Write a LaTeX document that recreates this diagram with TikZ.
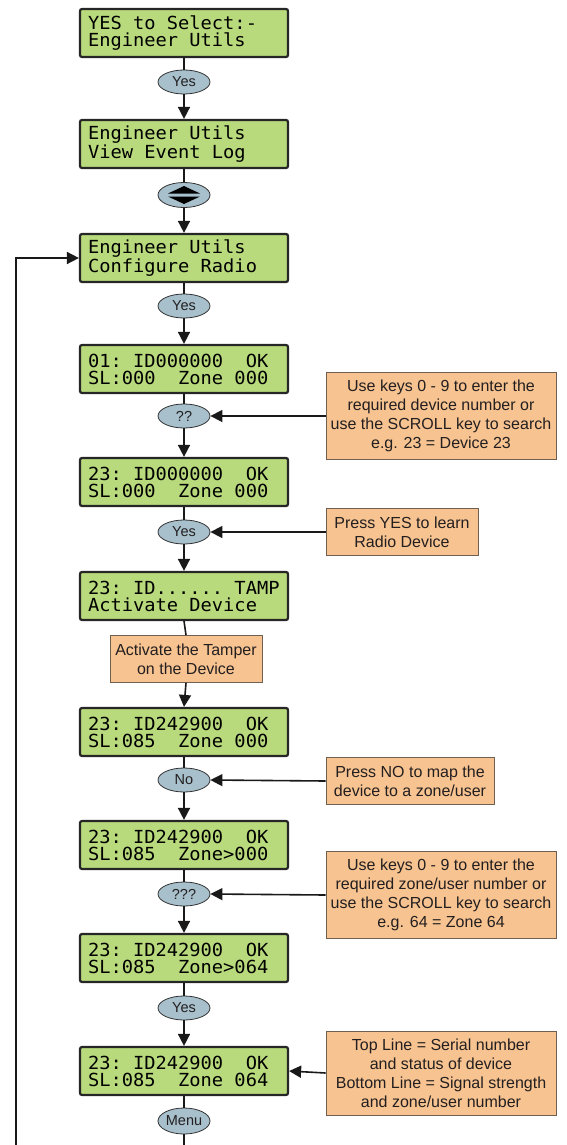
\documentclass[tikz,border=0pt]{standalone}
\usepackage{fontspec}
\setmainfont{Liberation Sans}
\newfontfamily\lcdfamily[FakeStretch=1.04]{DejaVu Sans Mono}
\usetikzlibrary{shapes.geometric,arrows.meta}
\definecolor{lcdgreen}{RGB}{184,218,124}
\definecolor{noteorange}{RGB}{247,195,144}
\definecolor{keyblue}{RGB}{168,192,204}
\definecolor{notebrd}{RGB}{110,95,80}
\definecolor{txtgray}{RGB}{35,31,32}
\newcommand\lcdsp{\hspace*{0.626em}}
\tikzset{
 lcd/.style={draw=black!85, line width=2.2pt, rounded corners=2pt, fill=lcdgreen,
   text width=192pt, inner xsep=8pt, inner ysep=0pt, minimum height=48pt, align=left,
   font=\lcdfamily\fontsize{18}{17}\selectfont},
 key/.style={ellipse, draw=black!80, line width=0.8pt, fill=keyblue, minimum width=52pt,
   minimum height=24pt, inner sep=0pt, font=\fontsize{14.5}{16}\selectfont, text=txtgray},
 note/.style={draw=notebrd, line width=0.8pt, fill=noteorange, align=center,
   font=\fontsize{16}{19}\selectfont, text=txtgray, inner sep=0pt},
 link/.style={line width=1.6pt, draw=black!90},
 flow/.style={link, -{Triangle[length=12pt,width=12pt]}}
}
\begin{document}
\begin{tikzpicture}[x=1pt,y=-1pt]
\useasboundingbox (0,0) rectangle (566,1145);
% LCD screens
\node[lcd] (b1) at (184,33) {YES\lcdsp to\lcdsp Select:-\\Engineer\lcdsp Utils};
\node[lcd] (b2) at (184,144) {Engineer\lcdsp Utils\\View\lcdsp Event\lcdsp Log};
\node[lcd] (b3) at (184,258) {Engineer\lcdsp Utils\\Configure\lcdsp Radio};
\node[lcd] (b4) at (184,369) {01:\lcdsp ID000000\lcdsp\lcdsp OK\\SL:000\lcdsp\lcdsp Zone\lcdsp 000};
\node[lcd] (b5) at (184,482) {23:\lcdsp ID000000\lcdsp\lcdsp OK\\SL:000\lcdsp\lcdsp Zone\lcdsp 000};
\node[lcd] (b6) at (184,596) {23:\lcdsp ID......\lcdsp TAMP\\Activate\lcdsp Device};
\node[lcd] (b7) at (184,732) {23:\lcdsp ID242900\lcdsp\lcdsp OK\\SL:085\lcdsp\lcdsp Zone\lcdsp 000};
\node[lcd] (b8) at (184,845) {23:\lcdsp ID242900\lcdsp\lcdsp OK\\SL:085\lcdsp\lcdsp Zone>000};
\node[lcd] (b9) at (184,958) {23:\lcdsp ID242900\lcdsp\lcdsp OK\\SL:085\lcdsp\lcdsp Zone>064};
\node[lcd] (b10) at (184,1071) {23:\lcdsp ID242900\lcdsp\lcdsp OK\\SL:085\lcdsp\lcdsp Zone\lcdsp 064};
% keys
\node[key] (k1) at (184,82) {Yes};
\node[key, minimum height=25pt] (k2) at (184,195) {};
\fill[black] ([xshift=-16pt,yshift=-1.5pt]k2.center) -- ([xshift=16pt,yshift=-1.5pt]k2.center) -- ([yshift=-9pt]k2.center) -- cycle;
\fill[black] ([xshift=-16pt,yshift=1.5pt]k2.center) -- ([xshift=16pt,yshift=1.5pt]k2.center) -- ([yshift=9pt]k2.center) -- cycle;
\node[key] (k3) at (184,306) {Yes};
\node[key] (k4) at (184,416) {??};
\node[key] (k5) at (184,532) {Yes};
\node[note, minimum width=152pt, minimum height=47pt] (t1) at (186,659) {Activate the Tamper\\on the Device};
\node[key] (k6) at (184,780) {No};
\node[key] (k7) at (184,894) {???};
\node[key] (k8) at (184,1008) {Yes};
\node[key, minimum height=26pt] (k9) at (184,1121) {Menu};
% notes
\node[note, minimum width=230pt, minimum height=87pt] (n1) at (441,416) {Use keys 0 - 9 to enter the\\required device number or\\use the SCROLL key to search\\e.g. 23 = Device 23};
\node[note, minimum width=152pt, minimum height=47pt] (n2) at (402,532) {Press YES to learn\\Radio Device};
\node[note, minimum width=168pt, minimum height=47pt] (n3) at (410,781) {Press NO to map the\\device to a zone/user};
\node[note, minimum width=230pt, minimum height=87pt] (n4) at (441,895) {Use keys 0 - 9 to enter the\\required zone/user number or\\use the SCROLL key to search\\e.g. 64 = Zone 64};
\node[note, minimum width=230pt, minimum height=84pt] (n5) at (441,1073) {Top Line = Serial number\\and status of device\\Bottom Line = Signal strength\\and zone/user number};
% main flow
\draw[link] (b1.south) -- (k1.north);
\draw[flow] (k1.south) -- (b2.north);
\draw[link] (b2.south) -- (k2.north);
\draw[flow] (k2.south) -- (b3.north);
\draw[link] (b3.south) -- (k3.north);
\draw[flow] (k3.south) -- (b4.north);
\draw[link] (b4.south) -- (k4.north);
\draw[flow] (k4.south) -- (b5.north);
\draw[link] (b5.south) -- (k5.north);
\draw[flow] (k5.south) -- (b6.north);
\draw[link] (b6.south) -- (t1.north);
\draw[flow] (t1.south) -- (b7.north);
\draw[link] (b7.south) -- (k6.north);
\draw[flow] (k6.south) -- (b8.north);
\draw[link] (b8.south) -- (k7.north);
\draw[flow] (k7.south) -- (b9.north);
\draw[link] (b9.south) -- (k8.north);
\draw[flow] (k8.south) -- (b10.north);
\draw[link] (b10.south) -- (k9.north);
\coordinate (bot) at (184,1145);
\draw[link] (k9.south) -- (bot);
% loop back
\coordinate (lb) at (16,1145);
\draw[flow] (lb) |- (b3.west);
% note arrows
\draw[flow] (n1.west) -- (k4.east);
\draw[flow] (n2.west) -- (k5.east);
\draw[flow] (n3.west) -- (k6.east);
\draw[flow] (n4.west) -- (k7.east);
\draw[flow] (n5.west) -- (b10.east);
\end{tikzpicture}
\end{document}
